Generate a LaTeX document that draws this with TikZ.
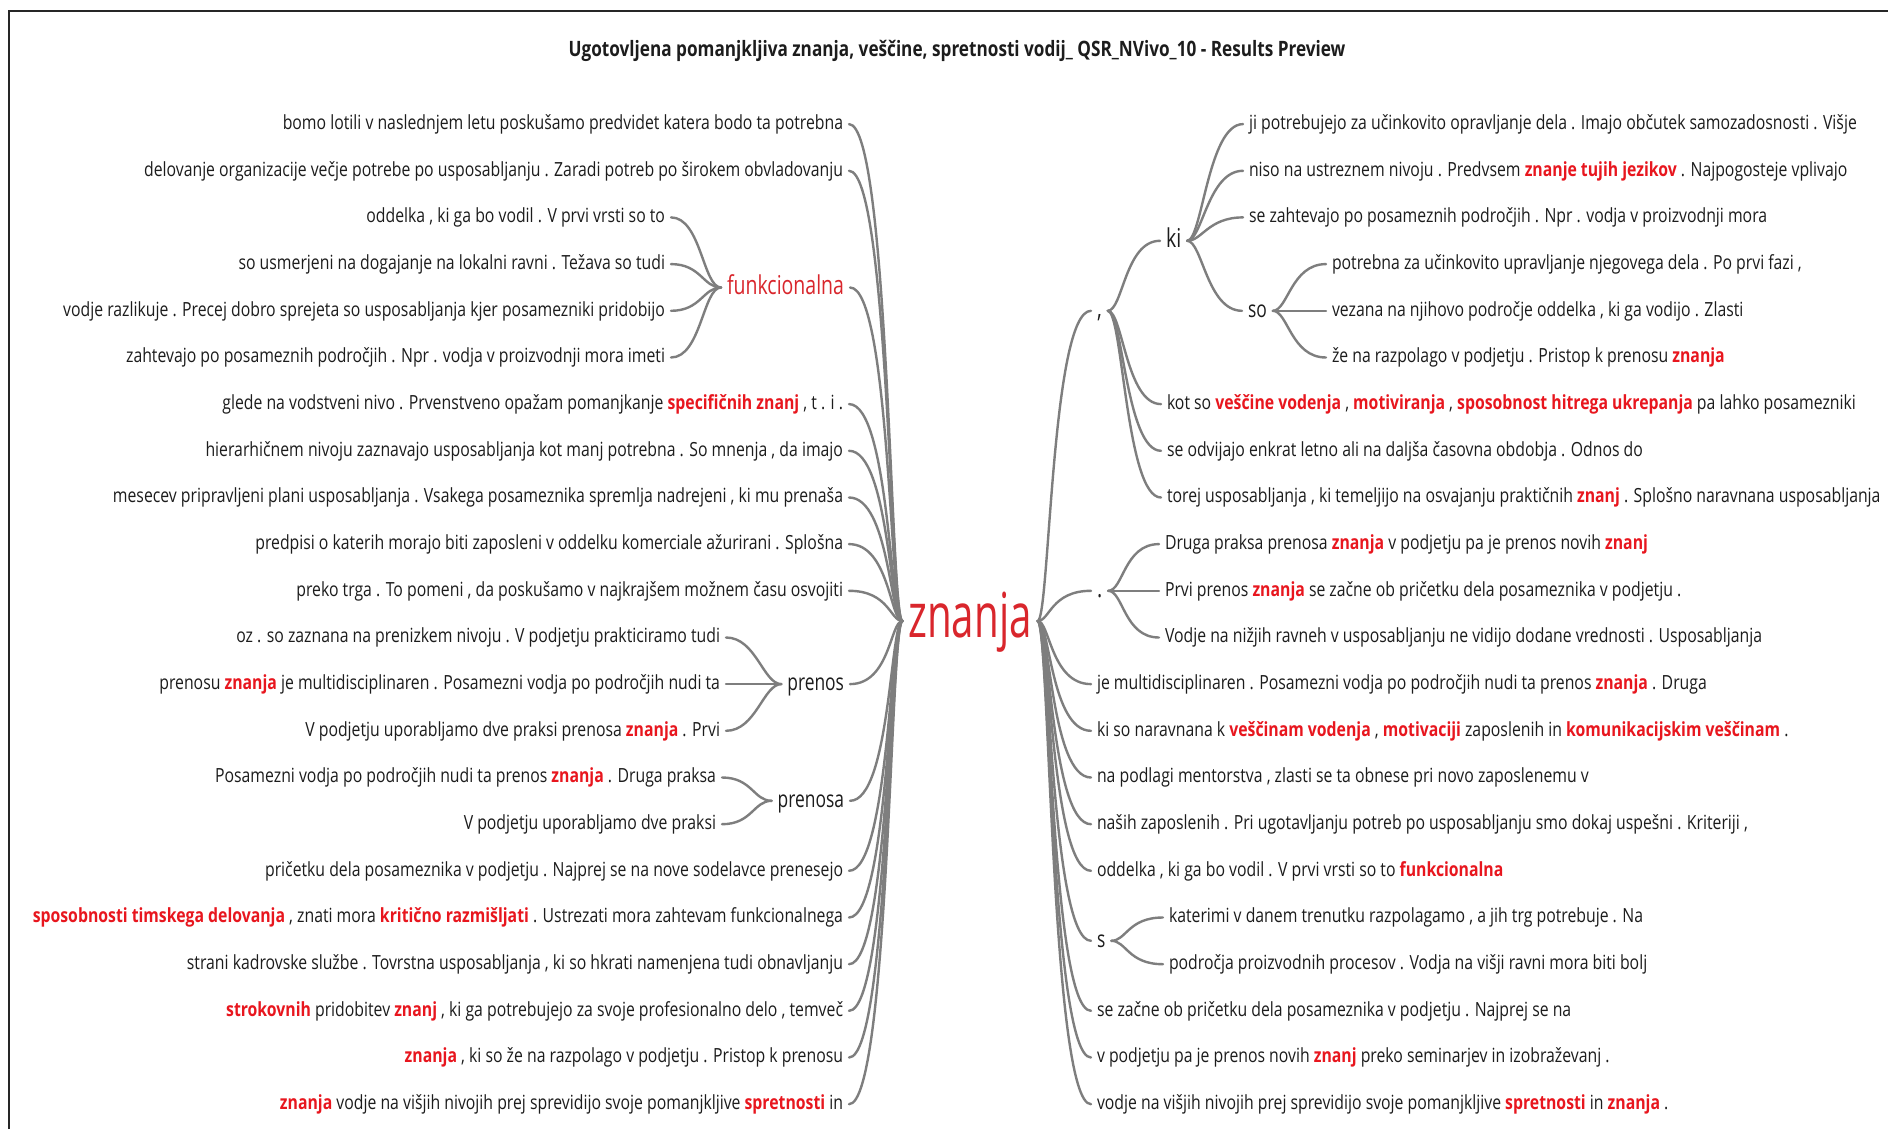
\documentclass[tikz,border=0pt]{standalone}
\usepackage{fontspec}
\setmainfont{Open Sans}
\newfontfamily\rowfont[FakeStretch=0.81]{Open Sans}
\newfontfamily\hubfont[FakeStretch=0.65]{Open Sans}
\newfontfamily\brfont[FakeStretch=0.75]{Open Sans}
\definecolor{txt}{HTML}{1C1C1C}
\definecolor{kwred}{HTML}{E8161E}
\definecolor{hubred}{HTML}{D9262C}
\definecolor{linkgray}{HTML}{7E7E7E}
\newcommand\kw[1]{{\color{kwred}\bfseries #1}}
\tikzset{
  row/.style={font=\rowfont\fontsize{9.75pt}{11pt}\selectfont, text=txt,
    inner sep=0pt, outer xsep=3pt, outer ysep=0pt, text height=5.2pt, text depth=0pt,
    yshift=-1.25pt},
  lrow/.style={row, anchor=east, xshift=3pt},
  rrow/.style={row, anchor=west, xshift=-3pt},
  branch/.style={font=\brfont\fontsize{13pt}{15pt}\selectfont, text=txt,
    inner sep=0pt, outer xsep=3pt, outer ysep=0pt, text height=7pt, text depth=0pt,
    yshift=-1.25pt},
  smallbranch/.style={branch, font=\brfont\fontsize{11.6pt}{14pt}\selectfont, text height=6.2pt},
  hub/.style={font=\hubfont\fontsize{31pt}{34pt}\selectfont, text=hubred,
    inner sep=0pt, outer xsep=3pt, text height=16pt, text depth=0pt},
  link/.style={draw=linkgray, line width=1.2pt, line cap=round},
}
\begin{document}
\begin{tikzpicture}[x=0.5pt, y=-0.5pt]
\fill[white] (0,0) rectangle (1888,1129);
\useasboundingbox (0,0) rectangle (1888,1129);
\draw[line width=1.1pt, black!85] (9,1129) -- (9,11) -- (1888,11);

\node[font=\rowfont\bfseries\fontsize{10.6pt}{12pt}\selectfont, text=txt, inner sep=0pt] (title) at (957,51)
  {Ugotovljena pomanjkljiva znanja, veščine, spretnosti vodij\_ QSR\_NVivo\_10 - Results Preview};

% central word
\node[hub] (znanja) at (970,621) {znanja};

% left-hand contexts
\node[lrow] (L1) at (843,121.6) {bomo lotili v naslednjem letu poskušamo predvidet katera bodo ta potrebna};
\node[lrow] (L2) at (843,168.3) {delovanje organizacije večje potrebe po usposabljanju . Zaradi potreb po širokem obvladovanju};
\node[lrow] (L3) at (665,214.9) {oddelka , ki ga bo vodil . V prvi vrsti so to};
\node[lrow] (L4) at (665,261.6) {so usmerjeni na dogajanje na lokalni ravni . Težava so tudi};
\node[lrow] (L5) at (665,308.3) {vodje razlikuje . Precej dobro sprejeta so usposabljanja kjer posamezniki pridobijo};
\node[lrow] (L6) at (665,355.0) {zahtevajo po posameznih področjih . Npr . vodja v proizvodnji mora imeti};
\node[lrow] (L7) at (843,401.6) {glede na vodstveni nivo . Prvenstveno opažam pomanjkanje \kw{specifičnih znanj} , t . i .};
\node[lrow] (L8) at (843,448.3) {hierarhičnem nivoju zaznavajo usposabljanja kot manj potrebna . So mnenja , da imajo};
\node[lrow] (L9) at (843,495.0) {mesecev pripravljeni plani usposabljanja . Vsakega posameznika spremlja nadrejeni , ki mu prenaša};
\node[lrow] (L10) at (843,541.6) {predpisi o katerih morajo biti zaposleni v oddelku komerciale ažurirani . Splošna};
\node[lrow] (L11) at (843,588.3) {preko trga . To pomeni , da poskušamo v najkrajšem možnem času osvojiti};
\node[lrow] (L12) at (720,635.0) {oz . so zaznana na prenizkem nivoju . V podjetju prakticiramo tudi};
\node[lrow] (L13) at (720,681.6) {prenosu \kw{znanja} je multidisciplinaren . Posamezni vodja po področjih nudi ta};
\node[lrow] (L14) at (720,728.3) {V podjetju uporabljamo dve praksi prenosa \kw{znanja} . Prvi};
\node[lrow] (L15) at (716,775.0) {Posamezni vodja po področjih nudi ta prenos \kw{znanja} . Druga praksa};
\node[lrow] (L16) at (716,821.7) {V podjetju uporabljamo dve praksi};
\node[lrow] (L17) at (843,868.3) {pričetku dela posameznika v podjetju . Najprej se na nove sodelavce prenesejo};
\node[lrow] (L18) at (843,915.0) {\kw{sposobnosti timskega delovanja} , znati mora \kw{kritično razmišljati} . Ustrezati mora zahtevam funkcionalnega};
\node[lrow] (L19) at (843,961.7) {strani kadrovske službe . Tovrstna usposabljanja , ki so hkrati namenjena tudi obnavljanju};
\node[lrow] (L20) at (843,1008.3) {\kw{strokovnih} pridobitev \kw{znanj} , ki ga potrebujejo za svoje profesionalno delo , temveč};
\node[lrow] (L21) at (843,1055.0) {\kw{znanja} , ki so že na razpolago v podjetju . Pristop k prenosu};
\node[lrow] (L22) at (843,1101.7) {\kw{znanja} vodje na višjih nivojih prej sprevidijo svoje pomanjkljive \kw{spretnosti} in};

% left-hand branch words
\node[branch, anchor=east, text=hubred] (fun) at (850,285) {funkcionalna};
\node[smallbranch, anchor=east] (pre) at (850,681.6) {prenos};
\node[smallbranch, anchor=east] (prea) at (850,798.3) {prenosa};

% right-hand branch words
\node[branch, anchor=west] (com) at (1091,308.3) {,};
\node[branch, anchor=west] (ki) at (1160,238.3) {ki};
\node[smallbranch, anchor=west] (so) at (1242,308.3) {so};
\node[branch, anchor=west] (dot) at (1091,588.3) {.};
\node[smallbranch, anchor=west] (s) at (1091,938.3) {s};

% right-hand contexts
\node[rrow] (R1) at (1249,121.6) {ji potrebujejo za učinkovito opravljanje dela . Imajo občutek samozadosnosti . Višje};
\node[rrow] (R2) at (1249,168.3) {niso na ustreznem nivoju . Predvsem \kw{znanje tujih jezikov} . Najpogosteje vplivajo};
\node[rrow] (R3) at (1249,214.9) {se zahtevajo po posameznih področjih . Npr . vodja v proizvodnji mora};
\node[rrow] (R4) at (1332,261.6) {potrebna za učinkovito upravljanje njegovega dela . Po prvi fazi ,};
\node[rrow] (R5) at (1332,308.3) {vezana na njihovo področje oddelka , ki ga vodijo . Zlasti};
\node[rrow] (R6) at (1332,355.0) {že na razpolago v podjetju . Pristop k prenosu \kw{znanja}};
\node[rrow] (R7) at (1167,401.6) {kot so \kw{veščine vodenja} , \kw{motiviranja} , \kw{sposobnost hitrega ukrepanja} pa lahko posamezniki};
\node[rrow] (R8) at (1167,448.3) {se odvijajo enkrat letno ali na daljša časovna obdobja . Odnos do};
\node[rrow] (R9) at (1167,495.0) {torej usposabljanja , ki temeljijo na osvajanju praktičnih \kw{znanj} . Splošno naravnana usposabljanja};
\node[rrow] (R10) at (1165,541.6) {Druga praksa prenosa \kw{znanja} v podjetju pa je prenos novih \kw{znanj}};
\node[rrow] (R11) at (1165,588.3) {Prvi prenos \kw{znanja} se začne ob pričetku dela posameznika v podjetju .};
\node[rrow] (R12) at (1165,635.0) {Vodje na nižjih ravneh v usposabljanju ne vidijo dodane vrednosti . Usposabljanja};
\node[rrow] (R13) at (1097,681.6) {je multidisciplinaren . Posamezni vodja po področjih nudi ta prenos \kw{znanja} . Druga};
\node[rrow] (R14) at (1097,728.3) {ki so naravnana k \kw{veščinam vodenja} , \kw{motivaciji} zaposlenih in \kw{komunikacijskim veščinam} .};
\node[rrow] (R15) at (1097,775.0) {na podlagi mentorstva , zlasti se ta obnese pri novo zaposlenemu v};
\node[rrow] (R16) at (1097,821.7) {naših zaposlenih . Pri ugotavljanju potreb po usposabljanju smo dokaj uspešni . Kriteriji ,};
\node[rrow] (R17) at (1097,868.3) {oddelka , ki ga bo vodil . V prvi vrsti so to \kw{funkcionalna}};
\node[rrow] (R18) at (1169,915.0) {katerimi v danem trenutku razpolagamo , a jih trg potrebuje . Na};
\node[rrow] (R19) at (1169,961.7) {področja proizvodnih procesov . Vodja na višji ravni mora biti bolj};
\node[rrow] (R20) at (1097,1008.3) {se začne ob pričetku dela posameznika v podjetju . Najprej se na};
\node[rrow] (R21) at (1097,1055.0) {v podjetju pa je prenos novih \kw{znanj} preko seminarjev in izobraževanj .};
\node[rrow] (R22) at (1097,1101.7) {vodje na višjih nivojih prej sprevidijo svoje pomanjkljive \kw{spretnosti} in \kw{znanja} .};

% connectors, left side
\foreach \n in {L1,L2,L7,L8,L9,L10,L11,L17,L18,L19,L20,L21,L22,fun,pre,prea}
  \draw[link] (\n.east) .. controls +(40,0) and +(-12,0) .. (znanja.west);
\foreach \n in {L3,L4,L5,L6}
  \draw[link] (\n.east) .. controls +(30,0) and +(-18,0) .. (fun.west);
\foreach \n in {L12,L13,L14}
  \draw[link] (\n.east) .. controls +(30,0) and +(-18,0) .. (pre.west);
\foreach \n in {L15,L16}
  \draw[link] (\n.east) .. controls +(30,0) and +(-18,0) .. (prea.west);

% connectors, right side
\foreach \n in {com,dot,R13,R14,R15,R16,R17,s,R20,R21,R22}
  \draw[link] (znanja.east) .. controls +(12,0) and +(-40,0) .. (\n.west);
\foreach \n in {ki,R7,R8,R9}
  \draw[link] (com.east) .. controls +(15,0) and +(-35,0) .. (\n.west);
\foreach \n in {R1,R2,R3,so}
  \draw[link] (ki.east) .. controls +(15,0) and +(-35,0) .. (\n.west);
\foreach \n in {R4,R5,R6}
  \draw[link] (so.east) .. controls +(15,0) and +(-35,0) .. (\n.west);
\foreach \n in {R10,R11,R12}
  \draw[link] (dot.east) .. controls +(15,0) and +(-35,0) .. (\n.west);
\foreach \n in {R18,R19}
  \draw[link] (s.east) .. controls +(15,0) and +(-35,0) .. (\n.west);
\end{tikzpicture}
\end{document}
